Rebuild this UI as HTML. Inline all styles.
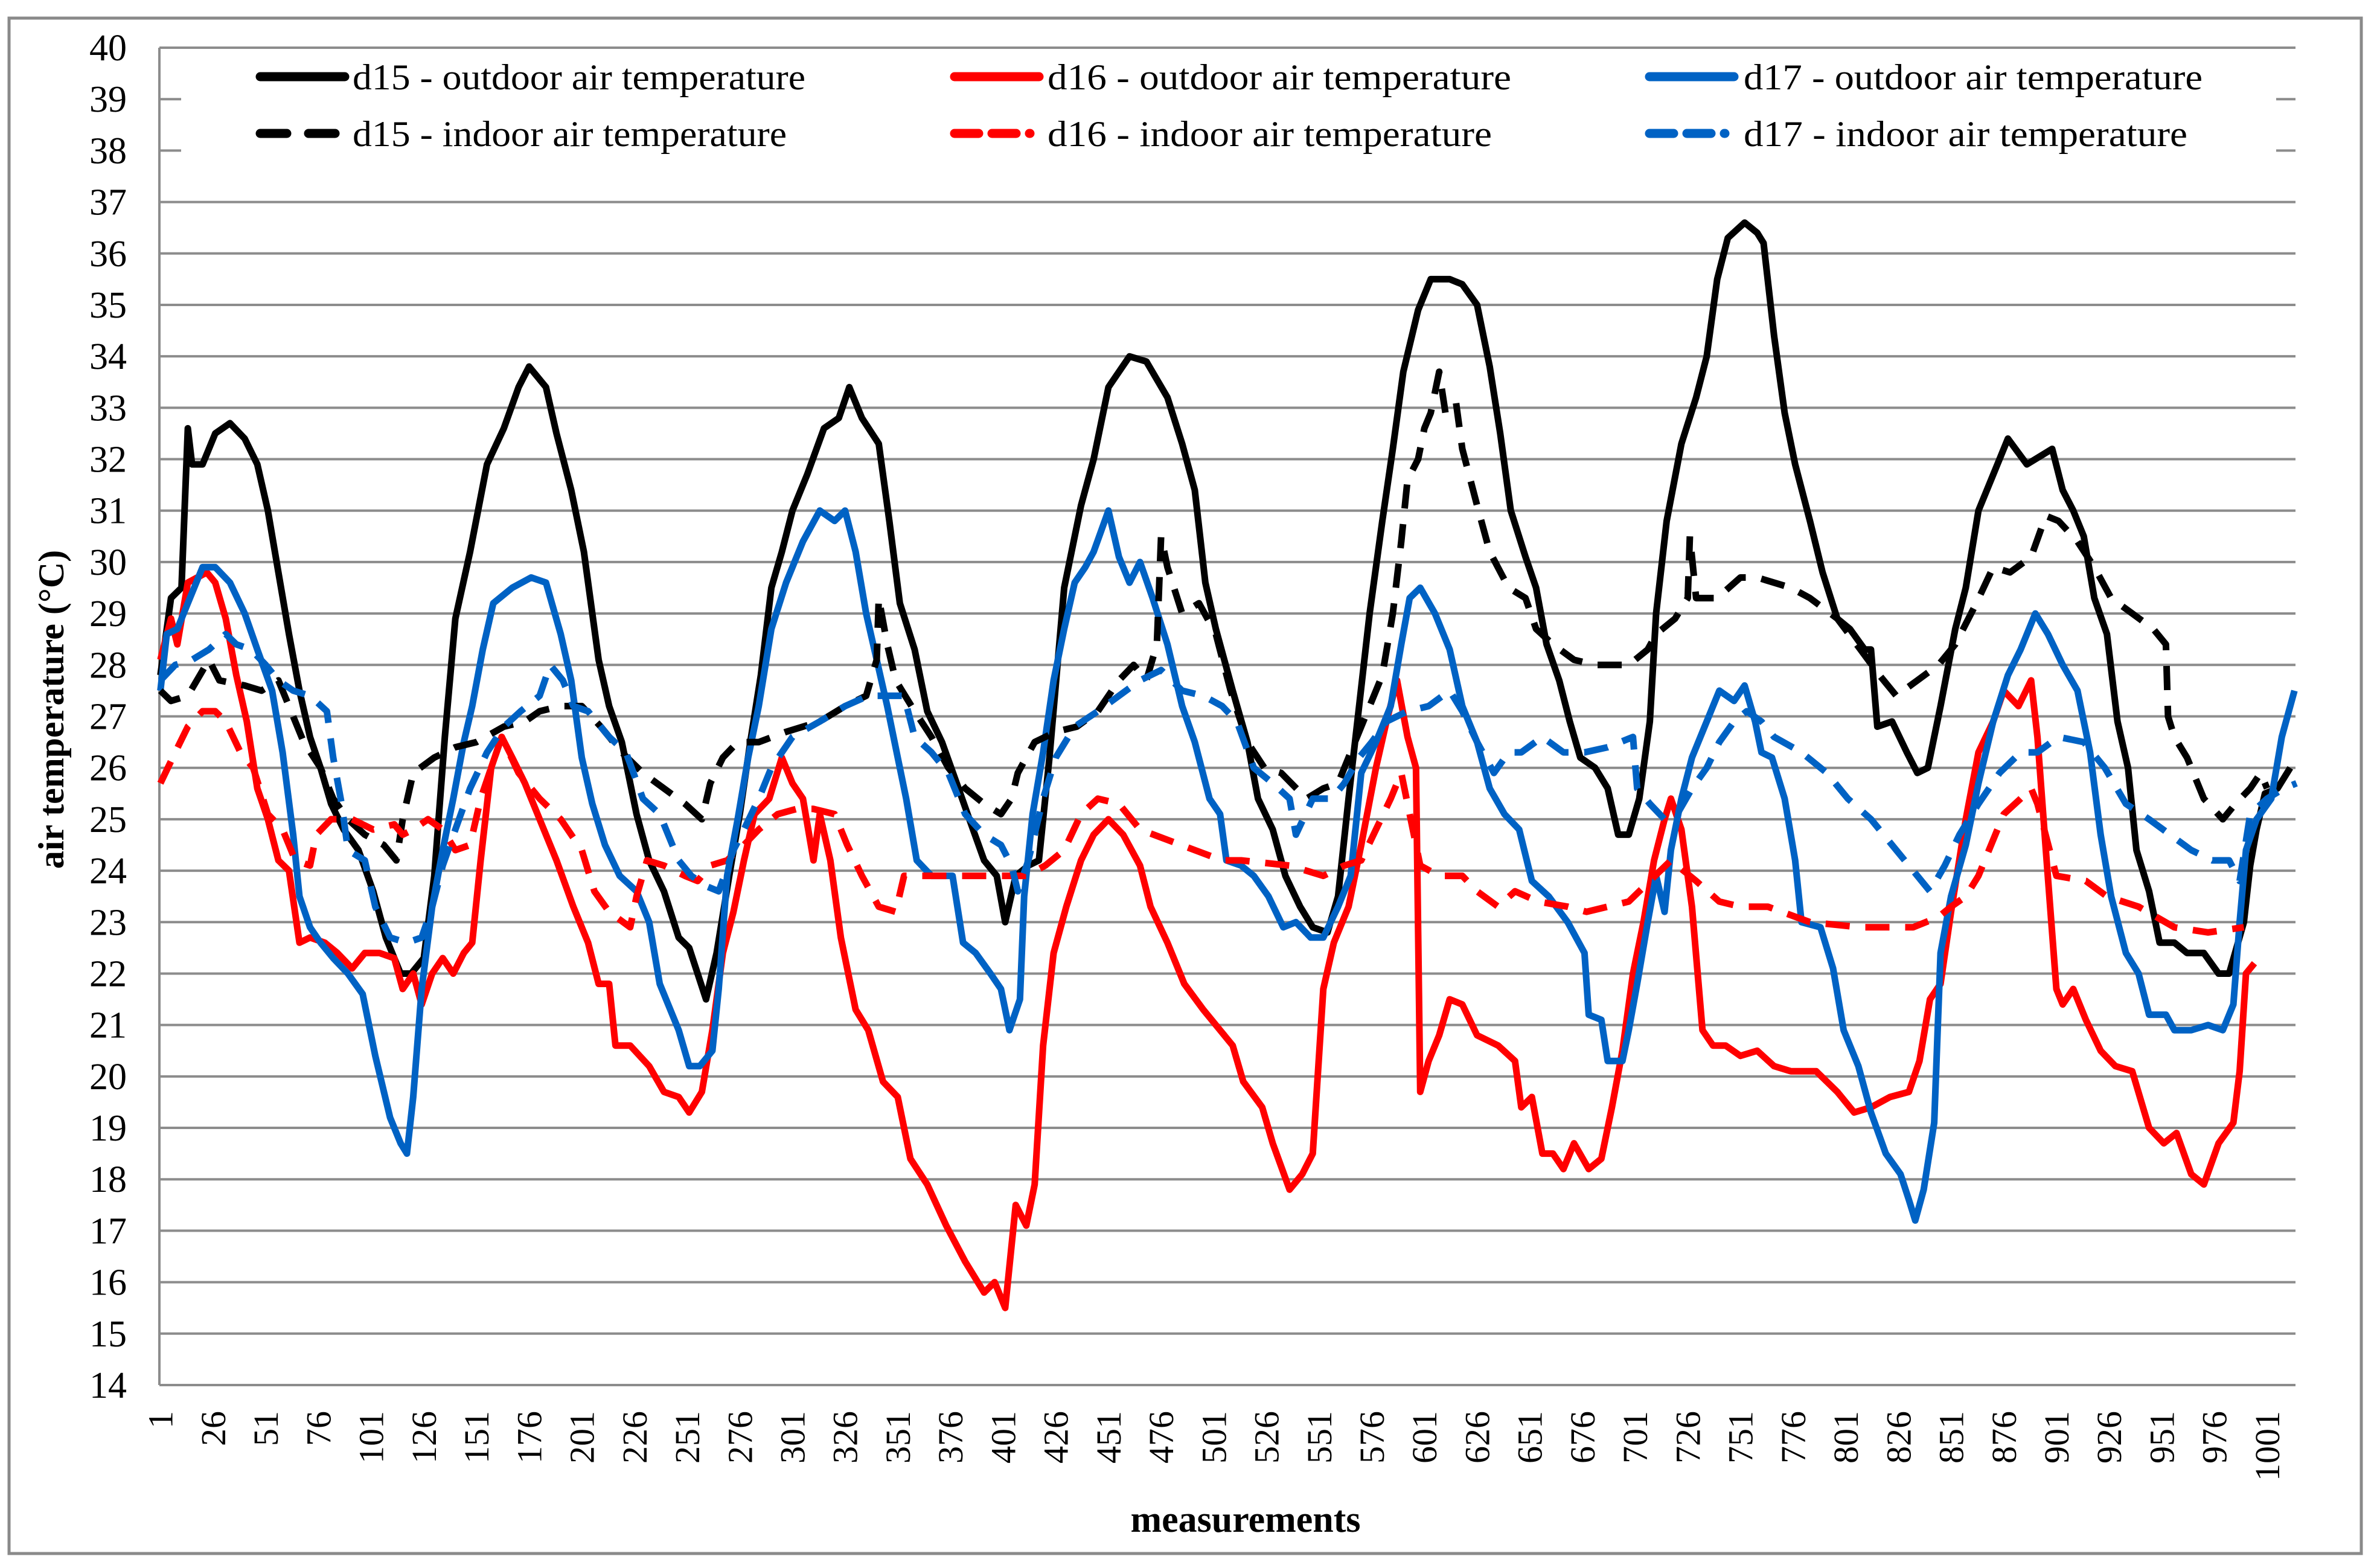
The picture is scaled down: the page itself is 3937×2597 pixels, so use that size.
<!DOCTYPE html>
<html><head><meta charset="utf-8"><style>
html,body{margin:0;padding:0;background:#fff;}
svg{display:block;font-family:"Liberation Serif",serif;}
</style></head><body>
<svg id="chart" width="3937" height="2597" viewBox="0 0 3937 2597" xmlns="http://www.w3.org/2000/svg">
<rect x="0" y="0" width="3937" height="2597" fill="#fff"/>
<rect x="15" y="30" width="3896" height="2543" fill="none" stroke="#8a8a8a" stroke-width="5"/>
<g id="grid"></g>
<g id="ylabels"></g>
<g id="xlabels"></g>
<g id="series"></g>
<g id="legend"></g>
<text x="0" y="0" transform="translate(105,1175) rotate(-90)" text-anchor="middle" font-weight="bold" font-size="60">air temperature (°C)</text>
<text x="2063" y="2537" text-anchor="middle" font-weight="bold" font-size="62">measurements</text>
</svg>
<script>
const yTicks = [14,15,16,17,18,19,20,21,22,23,24,25,26,27,28,29,30,31,32,33,34,35,36,37,38,39,40];
const xTickLabels = [1,26,51,76,101,126,151,176,201,226,251,276,301,326,351,376,401,426,451,476,501,526,551,576,601,626,651,676,701,726,751,776,801,826,851,876,901,926,951,976,1001];
const nMeas = 1014;

const d15OutM = [1,6,11,14,16,21,27,34,41,47,52,57,62,67,72,77,82,88,95,102,108,115,120,126,131,136,141,148,156,164,171,176,184,189,196,202,209,214,220,227,233,240,247,252,260,265,271,276,281,286,291,296,301,308,316,323,328,334,342,347,352,359,365,372,379,385,392,398,402,407,413,418,423,430,438,444,451,461,469,479,486,492,497,502,510,517,522,529,535,542,548,555,560,565,570,575,581,586,591,598,604,613,619,626,632,637,642,649,654,659,665,670,675,682,688,693,698,703,708,711,716,723,730,735,740,745,753,759,762,767,772,777,784,790,797,803,810,813,816,823,830,835,840,846,853,858,864,873,878,887,899,904,909,914,919,925,930,935,939,945,950,957,963,971,978,983,990,993,996,1000,1006,1012];
const d15OutT = [27.8,29.3,29.5,32.6,31.9,31.9,32.5,32.7,32.4,31.9,31.0,29.8,28.6,27.5,26.6,26.0,25.3,24.8,24.4,23.6,22.7,22.0,22.0,22.3,23.9,26.6,28.9,30.2,31.9,32.6,33.4,33.8,33.4,32.5,31.4,30.2,28.1,27.2,26.5,25.1,24.2,23.6,22.7,22.5,21.5,22.4,23.9,25.1,26.5,27.8,29.5,30.2,31.0,31.7,32.6,32.8,33.4,32.8,32.3,30.8,29.2,28.3,27.1,26.5,25.7,25.0,24.2,23.9,23.0,23.9,24.1,24.2,26.2,29.5,31.1,32.0,33.4,34.0,33.9,33.2,32.3,31.4,29.6,28.7,27.5,26.5,25.4,24.8,23.9,23.3,22.9,22.8,23.5,25.4,27.2,29.0,30.8,32.2,33.7,34.9,35.5,35.5,35.4,35.0,33.8,32.5,31.0,30.1,29.5,28.4,27.7,26.9,26.2,26.0,25.6,24.7,24.7,25.4,26.9,29.0,30.8,32.3,33.2,34.0,35.5,36.3,36.6,36.4,36.2,34.4,32.9,31.9,30.8,29.8,28.9,28.7,28.3,28.3,26.8,26.9,26.3,25.9,26.0,27.2,28.7,29.5,31.0,31.9,32.4,31.9,32.2,31.4,31.0,30.5,29.3,28.6,26.9,26.0,24.4,23.6,22.6,22.6,22.4,22.4,22.0,22.0,23.0,24.1,24.8,25.5,25.6,26.0];

const d16OutM = [1,6,9,14,23,27,32,37,42,47,52,57,62,67,72,79,85,92,98,105,112,116,121,125,130,135,140,145,149,153,158,163,168,174,181,189,197,204,209,214,217,224,233,240,247,252,258,263,268,273,278,283,290,296,301,306,311,314,319,324,331,337,344,351,357,365,374,383,392,397,402,407,412,416,420,425,431,438,444,451,458,466,471,479,487,496,504,510,515,524,529,537,543,548,553,558,565,571,578,583,588,593,597,599,603,608,613,619,626,636,644,647,652,657,662,667,672,679,685,690,695,700,705,710,715,718,723,728,733,738,744,751,759,767,775,787,797,805,813,822,831,836,841,846,851,858,864,871,876,883,889,892,896,901,904,909,915,922,929,937,945,952,958,965,971,978,985,988,991,995];
const d16OutT = [28.1,28.9,28.4,29.6,29.8,29.6,28.9,27.8,26.9,25.6,25.0,24.2,24.0,22.6,22.7,22.6,22.4,22.1,22.4,22.4,22.3,21.7,22.0,21.4,22.0,22.3,22.0,22.4,22.6,24.2,26.0,26.6,26.2,25.7,25.0,24.2,23.3,22.6,21.8,21.8,20.6,20.6,20.2,19.7,19.6,19.3,19.7,20.9,22.4,23.2,24.2,25.1,25.4,26.2,25.7,25.4,24.2,25.1,24.2,22.7,21.3,20.9,19.9,19.6,18.4,17.9,17.1,16.4,15.8,16.0,15.5,17.5,17.1,17.9,20.6,22.4,23.3,24.2,24.7,25.0,24.7,24.1,23.3,22.6,21.8,21.3,20.9,20.6,19.9,19.4,18.7,17.8,18.1,18.5,21.7,22.6,23.3,24.5,26.0,26.9,27.7,26.6,26.0,19.7,20.3,20.8,21.5,21.4,20.8,20.6,20.3,19.4,19.6,18.5,18.5,18.2,18.7,18.2,18.4,19.4,20.5,22.0,23.0,24.2,25.0,25.4,24.8,23.3,20.9,20.6,20.6,20.4,20.5,20.2,20.1,20.1,19.7,19.3,19.4,19.6,19.7,20.3,21.5,21.8,23.2,25.0,26.3,26.9,27.5,27.2,27.7,26.6,24.4,21.7,21.4,21.7,21.1,20.5,20.2,20.1,19.0,18.7,18.9,18.1,17.9,18.7,19.1,20.1,22.0,22.2];

const d17OutM = [1,4,9,14,21,27,34,41,47,54,59,64,67,72,77,83,90,97,103,110,115,118,121,125,130,135,140,145,149,154,159,168,177,184,191,196,201,206,212,219,227,233,238,247,252,257,263,266,270,275,280,285,291,298,306,314,321,326,331,336,341,346,351,355,360,367,377,382,388,395,400,404,409,411,415,420,425,430,435,440,444,451,456,461,466,472,479,486,492,499,504,507,514,520,527,534,540,547,553,560,566,571,578,585,590,594,599,606,613,619,626,632,639,646,652,660,669,677,679,685,688,695,698,702,707,711,715,718,723,728,735,741,748,753,758,761,766,772,777,780,789,795,800,807,813,820,827,831,834,838,843,846,851,858,864,871,878,884,891,897,904,911,917,922,927,934,940,945,953,957,965,973,980,985,988,991,996,1003,1008,1014];
const d17OutT = [27.5,28.6,28.7,29.2,29.9,29.9,29.6,29.0,28.3,27.5,26.3,24.7,23.5,22.9,22.6,22.3,22.0,21.6,20.4,19.2,18.7,18.5,19.6,21.7,23.3,24.4,25.4,26.5,27.2,28.3,29.2,29.5,29.7,29.6,28.6,27.7,26.2,25.3,24.5,23.9,23.6,23.0,21.8,20.9,20.2,20.2,20.5,21.7,23.9,25.0,26.2,27.2,28.7,29.6,30.4,31.0,30.8,31.0,30.2,29.0,28.1,27.2,26.2,25.4,24.2,23.9,23.9,22.6,22.4,22.0,21.7,20.9,21.5,23.5,25.1,26.3,27.7,28.7,29.6,29.9,30.2,31.0,30.1,29.6,30.0,29.3,28.4,27.2,26.5,25.4,25.1,24.2,24.1,23.9,23.5,22.9,23.0,22.7,22.7,23.3,23.9,25.9,26.5,27.2,28.4,29.3,29.5,29.0,28.3,27.2,26.5,25.6,25.1,24.8,23.8,23.5,23.0,22.4,21.2,21.1,20.3,20.3,20.9,21.8,23.0,23.9,23.2,24.4,25.4,26.2,26.9,27.5,27.3,27.6,26.9,26.3,26.2,25.4,24.2,23.0,22.9,22.1,20.9,20.2,19.3,18.5,18.1,17.6,17.2,17.8,19.1,22.4,23.5,24.5,25.7,26.9,27.8,28.3,29.0,28.6,28.0,27.5,26.3,24.7,23.5,22.4,22.0,21.2,21.2,20.9,20.9,21.0,20.9,21.4,23.0,24.4,25.0,25.4,26.6,27.5];

const d15InM = [1,6,14,24,29,41,49,57,62,69,77,83,90,98,107,113,116,121,131,141,151,164,174,181,191,201,210,220,230,240,250,258,262,268,275,285,298,314,326,336,341,342,346,350,359,367,375,383,392,400,405,408,416,426,436,446,456,463,469,474,476,479,486,494,502,509,517,525,533,545,553,560,566,575,581,586,590,593,598,601,604,608,611,616,619,626,632,641,649,654,662,672,682,692,698,707,711,720,726,727,730,740,751,759,775,784,797,808,817,825,835,845,853,863,871,879,889,896,902,911,919,927,937,947,953,954,957,963,971,980,986,993,998,1001];
const d15InT = [27.5,27.3,27.4,28.1,27.7,27.6,27.5,27.7,27.2,26.5,26.0,25.4,25.0,24.7,24.5,24.2,25.0,25.9,26.2,26.4,26.5,26.8,26.9,27.1,27.2,27.2,26.8,26.3,25.9,25.6,25.3,25.0,25.7,26.2,26.5,26.5,26.7,26.9,27.2,27.4,28.1,29.3,28.4,27.7,27.1,26.6,26.0,25.6,25.3,25.1,25.4,25.9,26.5,26.7,26.8,27.1,27.7,28.0,27.7,28.4,30.5,29.9,29.0,29.2,28.6,27.5,26.5,26.0,25.9,25.4,25.6,25.7,26.3,27.2,27.8,29.0,30.4,31.6,32.0,32.6,32.9,33.7,32.9,33.1,32.2,31.1,30.2,29.5,29.3,28.7,28.4,28.1,28.0,28.0,28.0,28.3,28.6,28.9,29.3,30.5,29.3,29.3,29.7,29.7,29.5,29.3,28.9,28.3,27.8,27.4,27.7,28.0,28.4,29.2,29.9,29.8,30.1,30.9,30.8,30.4,29.9,29.3,29.0,28.7,28.4,27.0,26.6,26.2,25.4,25.0,25.3,25.6,25.9,25.6];

const d16InM = [1,8,14,21,27,32,39,45,52,59,65,72,75,82,92,102,112,116,121,128,135,141,148,153,158,163,171,181,191,201,207,214,224,227,232,240,250,256,262,270,278,285,294,303,311,321,327,334,342,350,354,367,383,400,412,421,430,438,446,456,466,479,492,505,514,537,553,563,571,578,585,590,594,599,608,619,626,636,644,655,669,678,688,698,708,718,730,741,751,764,784,808,833,845,851,858,864,869,876,884,889,892,901,915,925,940,957,973,990];
const d16InT = [25.7,26.3,26.8,27.1,27.1,26.9,26.3,26.0,25.1,24.8,24.2,24.1,24.7,25.0,25.0,24.8,24.9,24.7,24.8,25.0,24.8,24.4,24.5,25.4,26.0,26.6,25.9,25.4,25.0,24.4,23.6,23.2,22.9,23.5,24.2,24.1,23.9,23.8,24.1,24.2,24.5,24.8,25.1,25.2,25.2,25.1,24.5,23.9,23.3,23.2,23.9,23.9,23.9,23.9,23.9,24.1,24.4,25.1,25.4,25.3,24.8,24.6,24.4,24.2,24.2,24.1,23.9,24.1,24.2,24.8,25.4,25.9,25.1,24.1,23.9,23.9,23.6,23.3,23.6,23.4,23.3,23.2,23.3,23.4,23.8,24.2,23.8,23.4,23.3,23.3,23.0,22.9,22.9,23.1,23.3,23.5,23.9,24.4,25.1,25.4,25.6,25.3,23.9,23.8,23.5,23.3,22.9,22.8,22.9];

const d17InM = [1,8,16,24,32,37,44,51,57,64,72,80,83,87,90,98,103,110,118,125,130,135,141,148,156,164,172,181,186,192,197,204,214,222,230,238,247,253,260,266,273,278,285,291,301,314,326,337,347,354,359,367,375,383,392,400,405,408,413,420,426,435,446,456,466,476,486,496,505,512,520,529,537,540,548,557,563,570,576,583,593,603,613,619,626,634,641,647,657,667,677,688,700,702,708,715,721,728,735,741,748,754,761,767,780,792,802,813,825,835,841,848,855,864,874,884,892,902,914,924,934,945,955,965,975,983,988,993,1001,1009,1015];
const d17InT = [27.7,28.0,28.1,28.3,28.6,28.4,28.3,28.0,27.7,27.5,27.4,27.1,26.2,25.3,24.4,24.2,23.3,22.7,22.6,22.7,23.3,24.1,24.8,25.6,26.3,26.8,27.1,27.4,28.0,27.7,27.2,27.1,26.6,26.3,25.4,25.1,24.2,23.9,23.7,23.6,24.4,24.8,25.4,26.0,26.6,26.9,27.2,27.4,27.4,27.4,26.6,26.3,25.9,25.1,24.7,24.5,24.1,23.6,24.2,25.4,26.2,26.8,27.1,27.4,27.7,27.9,27.5,27.4,27.2,26.9,26.0,25.7,25.4,24.7,25.4,25.4,25.7,26.2,26.5,26.9,27.1,27.2,27.5,27.1,26.5,25.9,26.3,26.3,26.6,26.3,26.3,26.4,26.6,25.6,25.3,25.0,25.1,25.6,26.0,26.5,26.9,27.1,26.9,26.6,26.3,25.9,25.4,25.0,24.4,23.9,23.6,24.1,24.7,25.3,25.9,26.3,26.3,26.6,26.5,26.0,25.3,25.0,24.7,24.4,24.2,24.2,23.8,25.1,25.4,25.6,25.7];

const NS = 'http://www.w3.org/2000/svg';
const X0 = 264, X1 = 3802, Y0 = 79, Y1 = 2294, VMIN = 14, VMAX = 40;
const catW = (X1 - X0) / nMeas;
function xScale(m){ return X0 + (m - 0.5) * catW; }
function yScale(v){ return Y0 + (VMAX - v) * (Y1 - Y0) / (VMAX - VMIN); }
function mk(tag, attrs, parent){ const e = document.createElementNS(NS, tag); for (const k in attrs) e.setAttribute(k, attrs[k]); parent.appendChild(e); return e; }

const grid = document.getElementById('grid');
const ylab = document.getElementById('ylabels');
yTicks.forEach(v => {
  const y = yScale(v);
  const ln = mk('line', {x1: X0, x2: X1, y1: y, y2: y, stroke: '#8c8c8c', 'stroke-width': 4}, grid);
  
  
  const t = mk('text', {x: 210, y: y + 21, 'text-anchor': 'end', 'font-size': 62}, ylab);
  t.textContent = v;
  
  
});
const axis = mk('line', {x1: X0, x2: X0, y1: Y0, y2: Y1, stroke: '#8c8c8c', 'stroke-width': 4}, grid);



const xlab = document.getElementById('xlabels');
xTickLabels.forEach(m => {
  const x = xScale(m);
  const t = mk('text', {x: 0, y: 0, transform: 'translate(' + (x + 20) + ',2337) rotate(-90)', 'text-anchor': 'end', 'font-size': 58}, xlab);
  t.textContent = m;
  
  
});

const ser = document.getElementById('series');
const seriesDefs = [
  {name: 'd15-outdoor-line', ms: d15OutM, vs: d15OutT, color: '#000000', dash: null},
  {name: 'd16-outdoor-line', ms: d16OutM, vs: d16OutT, color: '#ff0000', dash: null},
  {name: 'd17-outdoor-line', ms: d17OutM, vs: d17OutT, color: '#0062c4', dash: null},
  {name: 'd15-indoor-line', ms: d15InM, vs: d15InT, color: '#000000', dash: '40 26'},
  {name: 'd16-indoor-line', ms: d16InM, vs: d16InT, color: '#ff0000', dash: '40 26'},
  {name: 'd17-indoor-line', ms: d17InM, vs: d17InT, color: '#0062c4', dash: '40 26'}
];
seriesDefs.forEach(s => {
  const pts = s.ms.map((m, i) => xScale(m).toFixed(1) + ',' + yScale(s.vs[i]).toFixed(1)).join(' ');
  const a = {points: pts, fill: 'none', stroke: s.color, 'stroke-width': 11, 'stroke-linejoin': 'round'};
  if (s.dash) a['stroke-dasharray'] = s.dash;
  const p = mk('polyline', a, ser);
  
  
});

const leg = document.getElementById('legend');
const lbg = mk('rect', {x: 300, y: 88, width: 3470, height: 180, fill: '#fff'}, leg);


const legendItems = [
  {label: 'd15 - outdoor air temperature', x: 431, tx: 584, w: 750, row: 0, color: '#000000', dash: null},
  {label: 'd16 -  outdoor air temperature', x: 1581, tx: 1735, w: 768, row: 0, color: '#ff0000', dash: null},
  {label: 'd17 -  outdoor air temperature', x: 2732, tx: 2888, w: 760, row: 0, color: '#0062c4', dash: null},
  {label: 'd15 - indoor air temperature', x: 431, tx: 584, w: 719, row: 1, color: '#000000', dash: '44 36'},
  {label: 'd16 -  indoor air temperature', x: 1581, tx: 1735, w: 736, row: 1, color: '#ff0000', dash: '40 22'},
  {label: 'd17 -  indoor air temperature', x: 2732, tx: 2888, w: 735, row: 1, color: '#0062c4', dash: '40 22'}
];
legendItems.forEach((it, i) => {
  const cy = it.row === 0 ? 127 : 221;
  const g = mk('g', {}, leg);
  
  
  const la = {x1: it.x, x2: it.x + 140, y1: cy, y2: cy, stroke: it.color, 'stroke-width': 15, 'stroke-linecap': 'round'};
  if (it.dash) { la['stroke-dasharray'] = it.dash; la.x2 = it.x + 125; }
  const l = mk('line', la, g);
  
  
  const t = mk('text', {x: it.tx, y: cy + 21, 'font-size': 60, textLength: it.w, lengthAdjust: 'spacingAndGlyphs'}, g);
  t.textContent = it.label;
  
  
});
</script>
</body></html>
